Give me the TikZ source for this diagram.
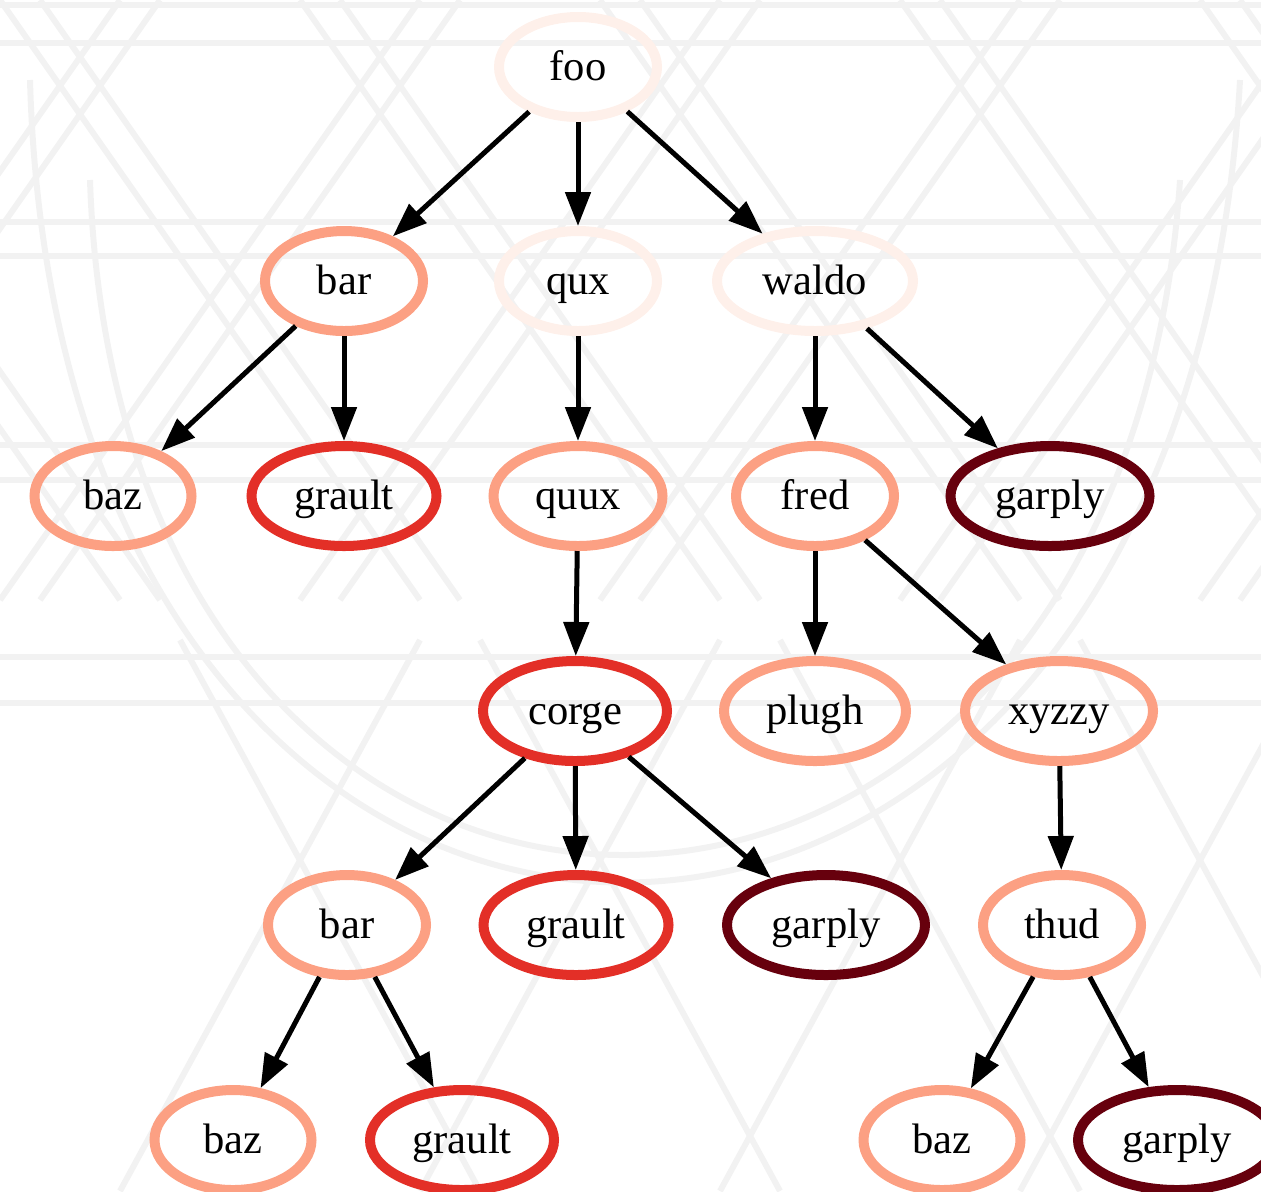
\documentclass[tikz,border=0pt]{standalone}
\usepackage{fontspec}
\setmainfont{Liberation Serif}
\usetikzlibrary{shapes.geometric,arrows.meta}
\definecolor{cA}{HTML}{FEF0EA}
\definecolor{cB}{HTML}{FCA083}
\definecolor{cC}{HTML}{E32F27}
\definecolor{cD}{HTML}{67000D}
\definecolor{bgl}{HTML}{F2F2F2}
\tikzset{
  gv/.style={ellipse, draw, line width=5pt, inner sep=0pt, minimum height=50pt,
    text height=15pt, text depth=2pt,
    font=\fontsize{21.3pt}{24pt}\selectfont, text=black},
  lA/.style={gv, draw=cA},
  lB/.style={gv, draw=cB},
  lC/.style={gv, draw=cC},
  lD/.style={gv, draw=cD},
  edge/.style={line width=2.5pt, -{Triangle[length=17pt,width=12.5pt]}},
  bgline/.style={draw=bgl, line width=3pt},
}
\begin{document}
\begin{tikzpicture}[x=0.5pt,y=-0.5pt]
\useasboundingbox (0,0) rectangle (1261,1191);
% faint background watermark
\begin{scope}
\clip (0,0) rectangle (1261,1191);
\foreach \yy in {5,43,222,256,445,480,657,703}
  \draw[bgline] (0,\yy) -- (1261,\yy);
\foreach \xx in {-300,0,300,600,900,1200}{
  \draw[bgline] (\xx,0) -- (\xx+420,600);
  \draw[bgline] (\xx+40,0) -- (\xx+460,600);
  \draw[bgline] (\xx+420,0) -- (\xx,600);
  \draw[bgline] (\xx+460,0) -- (\xx+40,600);
}
\draw[bgline] (30,80) .. controls (60,1150) and (1180,1150) .. (1240,80);
\draw[bgline] (90,180) .. controls (120,1080) and (1120,1080) .. (1180,180);
\foreach \xx in {0,300,600,900}{
  \draw[bgline] (\xx+120,1191) -- (\xx+420,640);
  \draw[bgline] (\xx+480,1191) -- (\xx+180,640);
}
\end{scope}
% nodes
\node[lA, minimum width=79pt] (foo) at (578,67) {foo};
\node[lB, minimum width=79pt] (bar) at (344,281) {bar};
\node[lA, minimum width=79pt] (qux) at (578,281) {qux};
\node[lA, minimum width=98pt] (waldo) at (815,281) {waldo};
\node[lB, minimum width=78.5pt] (baz) at (113,496) {baz};
\node[lC, minimum width=92.5pt] (grault) at (344,496) {grault};
\node[lB, minimum width=84.5pt] (quux) at (578,496) {quux};
\node[lB, minimum width=79pt] (fred) at (815,496) {fred};
\node[lD, minimum width=99.5pt] (garply) at (1050,496) {garply};
\node[lC, minimum width=92pt] (corge) at (575,711) {corge};
\node[lB, minimum width=91pt] (plugh) at (815,711) {plugh};
\node[lB, minimum width=94pt] (xyzzy) at (1059,711) {xyzzy};
\node[lB, minimum width=79pt] (bar2) at (347,925) {bar};
\node[lC, minimum width=92.5pt] (grault2) at (576,925) {grault};
\node[lD, minimum width=99pt] (garply2) at (826,925) {garply};
\node[lB, minimum width=79pt] (thud) at (1062,925) {thud};
\node[lB, minimum width=78.5pt] (baz3) at (233,1140) {baz};
\node[lC, minimum width=92pt] (grault3) at (462,1140) {grault};
\node[lB, minimum width=78.5pt] (baz4) at (942,1140) {baz};
\node[lD, minimum width=99pt] (garply4) at (1177,1140) {garply};
% edges
\draw[edge] (foo) -- (bar);
\draw[edge] (foo) -- (qux);
\draw[edge] (foo) -- (waldo);
\draw[edge] (bar) -- (baz);
\draw[edge] (bar) -- (grault);
\draw[edge] (qux) -- (quux);
\draw[edge] (waldo) -- (fred);
\draw[edge] (waldo) -- (garply);
\draw[edge] (quux) -- (corge);
\draw[edge] (fred) -- (plugh);
\draw[edge] (fred) -- (xyzzy);
\draw[edge] (corge) -- (bar2);
\draw[edge] (corge) -- (grault2);
\draw[edge] (corge) -- (garply2);
\draw[edge] (xyzzy) -- (thud);
\draw[edge] (bar2) -- (baz3);
\draw[edge] (bar2) -- (grault3);
\draw[edge] (thud) -- (baz4);
\draw[edge] (thud) -- (garply4);
\end{tikzpicture}
\end{document}
